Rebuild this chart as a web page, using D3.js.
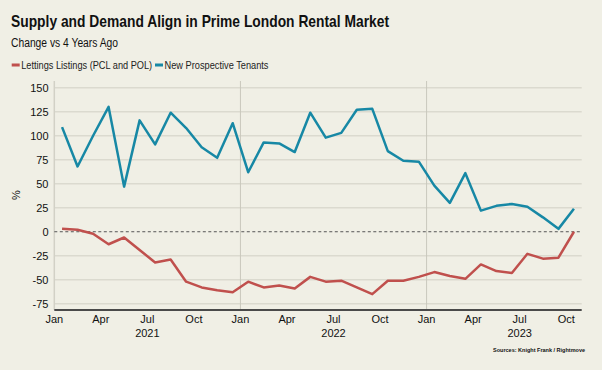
<!DOCTYPE html>
<html>
<head>
<meta charset="utf-8">
<script src="https://cdn.jsdelivr.net/npm/d3@7"></script>
<style>
  body { margin: 0; background: #f0efe5; }
  svg { display: block; font-family: "Liberation Sans", Arial, sans-serif; }
</style>
</head>
<body>
<svg id="chart" width="602" height="370"></svg>
<script>
// months from Jan 2021 to Oct 2023, one value per month
var tenants = [109, 68, 100, 130, 47, 116, 91, 124, 108, 88, 77, 113,
               62, 93, 92, 83, 124, 98, 103, 127, 128, 84, 74, 73,
               48, 30, 61, 22, 27, 29, 26, 15, 3, 24];
var listings = [3, 2, -2, -13, -6, -19, -32, -29, -52, -58, -61, -63,
                -52, -58, -56, -59, -47, -52, -51, -58, -65, -51, -51, -47,
                -42, -46, -49, -34, -41, -43, -23, -28, -27, 0];
var monthLabels = ["Jan", "Apr", "Jul", "Oct"];
var years = ["2021", "2022", "2023"];
var yTicks = [-75, -50, -25, 0, 25, 50, 75, 100, 125, 150];

var svg = d3.select("#chart");
var plotLeft = 54.3, plotRight = 581.7, plotTop = 81, plotBottom = 310;

var x = d3.scaleLinear().domain([0, 34]).range([plotLeft, plotRight]);
var y = d3.scaleLinear().domain([-81.5, 157]).range([plotBottom, plotTop]);

svg.append("rect").attr("width", 602).attr("height", 370).attr("fill", "#f0efe5");

// titles
svg.append("text").attr("x", 11).attr("y", 27)
    .attr("font-size", 17).attr("font-weight", "bold").attr("fill", "#111")
    .attr("textLength", 378).attr("lengthAdjust", "spacingAndGlyphs")
    .text("Supply and Demand Align in Prime London Rental Market");
svg.append("text").attr("x", 11).attr("y", 47)
    .attr("font-size", 12).attr("fill", "#111")
    .attr("textLength", 107).attr("lengthAdjust", "spacingAndGlyphs")
    .text("Change vs 4 Years Ago");

// legend
var legend = [
  {name: "Lettings Listings (PCL and POL)", color: "#c0504d", x: 11.7, w: 131},
  {name: "New Prospective Tenants", color: "#1788a5", x: 155, w: 104}
];
legend.forEach(function(d) {
  svg.append("rect").attr("x", d.x).attr("y", 63.5).attr("width", 8).attr("height", 3)
      .attr("fill", d.color);
  svg.append("text").attr("x", d.x + 9.5).attr("y", 69).attr("font-size", 10.5)
      .attr("textLength", d.w).attr("lengthAdjust", "spacingAndGlyphs")
      .attr("fill", "#222").text(d.name);
});

// horizontal gridlines
svg.append("g").selectAll("line").data(yTicks.filter(function(t) { return t != 0; }))
  .enter().append("line")
    .attr("x1", plotLeft).attr("x2", plotRight)
    .attr("y1", function(d) { return y(d); }).attr("y2", function(d) { return y(d); })
    .attr("stroke", "#dbdacf").attr("stroke-width", 1.5);

// year separators
svg.append("g").selectAll("line").data([12, 24])
  .enter().append("line")
    .attr("x1", function(d) { return x(d); }).attr("x2", function(d) { return x(d); })
    .attr("y1", plotTop).attr("y2", plotBottom)
    .attr("stroke", "#c9c8bd").attr("stroke-width", 1);

// y axis line
svg.append("line").attr("x1", plotLeft).attr("x2", plotLeft).attr("y1", plotTop).attr("y2", plotBottom)
    .attr("stroke", "#d2d1c6").attr("stroke-width", 1.5);

// zero line
svg.append("line").attr("x1", plotLeft).attr("x2", plotRight).attr("y1", y(0)).attr("y2", y(0))
    .attr("stroke", "#555").attr("stroke-width", 1).attr("stroke-dasharray", "3,2.5");

// y tick labels
svg.append("g").selectAll("text").data(yTicks).enter().append("text")
    .attr("x", 48.5).attr("y", function(d) { return y(d) + 4; })
    .attr("text-anchor", "end").attr("font-size", 11).attr("fill", "#111")
    .text(function(d) { return d; });

svg.append("text").attr("transform", "translate(20,195) rotate(-90)")
    .attr("text-anchor", "middle").attr("font-size", 11).attr("fill", "#111").text("%");

// x axis
svg.append("line").attr("x1", plotLeft).attr("x2", plotRight).attr("y1", plotBottom).attr("y2", plotBottom)
    .attr("stroke", "#4a4a4a").attr("stroke-width", 2);

var monthTicks = d3.range(0, 34, 3);
svg.append("g").selectAll("text").data(monthTicks).enter().append("text")
    .attr("x", function(d) { return x(d); }).attr("y", 323)
    .attr("text-anchor", "middle").attr("font-size", 11).attr("fill", "#111")
    .text(function(d) { return monthLabels[(d % 12) / 3]; });

svg.append("g").selectAll("text").data(years).enter().append("text")
    .attr("x", function(d, i) { return x(i * 12 + 6); }).attr("y", 337)
    .attr("text-anchor", "middle").attr("font-size", 11).attr("fill", "#111")
    .text(function(d) { return d; });

// lines
var line = d3.line()
    .x(function(d, i) { return x(i + 0.5); })
    .y(function(d) { return y(d); });

svg.append("path").datum(listings).attr("d", line)
    .attr("fill", "none").attr("stroke", "#c0504d").attr("stroke-width", 2.5)
    .attr("stroke-linejoin", "round");
svg.append("path").datum(tenants).attr("d", line)
    .attr("fill", "none").attr("stroke", "#1788a5").attr("stroke-width", 2.5)
    .attr("stroke-linejoin", "round");

// source
svg.append("text").attr("x", 585).attr("y", 352).attr("text-anchor", "end")
    .attr("font-size", 5.5).attr("font-weight", "bold").attr("fill", "#111")
    .text("Sources: Knight Frank / Rightmove");
</script>
</body>
</html>
